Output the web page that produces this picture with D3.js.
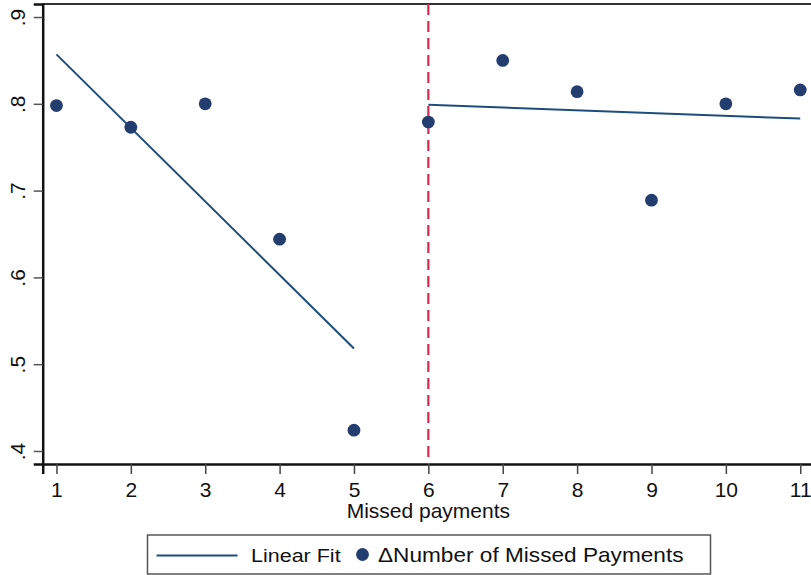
<!DOCTYPE html>
<html>
<head>
<meta charset="utf-8">
<script src="https://cdn.jsdelivr.net/npm/d3@7"></script>
<style>
  html, body { margin: 0; padding: 0; background: #fff; }
  svg { display: block; font-family: Arial, "Liberation Sans", sans-serif; }
</style>
</head>
<body>
<svg id="chart" width="811" height="575"></svg>
<script>
// Missed payments vs. change in the number of missed payments
const missed = [1, 2, 3, 4, 5, 6, 7, 8, 9, 10, 11];
const deltaMissed = [0.798, 0.773, 0.800, 0.644, 0.424, 0.779, 0.850, 0.814, 0.689, 0.800, 0.816];

// Linear fits on each side of the cutoff (endpoints)
const fitLeftX = [1, 5];
const fitLeftY = [0.857, 0.518];
const fitRightX = [6, 11];
const fitRightY = [0.799, 0.783];

const cutoff = 6;
const xTicks = [1, 2, 3, 4, 5, 6, 7, 8, 9, 10, 11];
const yTicks = [0.4, 0.5, 0.6, 0.7, 0.8, 0.9];
const yTickLabels = [".4", ".5", ".6", ".7", ".8", ".9"];

const legendLabels = ["Linear Fit", "\u0394Number of Missed Payments"];

const dotColor = "#233d6e";
const lineColor = "#1d4d7c";
const cutColor = "#d7284f";
const fontStack = "Arial, 'Liberation Sans', sans-serif";

const svg = d3.select("#chart");
const plot = { left: 42.7, right: 814, top: 4, bottom: 464 };

const x = d3.scaleLinear().domain([0.815, 11.185]).range([plot.left, plot.right]);
const y = d3.scaleLinear().domain([0.385, 0.915]).range([plot.bottom, plot.top]);

// frame
svg.append("line").attr("x1", plot.left).attr("x2", 811).attr("y1", plot.top).attr("y2", plot.top)
  .attr("stroke", "#333").attr("stroke-width", 2);

// x axis
const xAxis = d3.axisBottom(x).tickValues(xTicks).tickFormat(d3.format("d"))
  .tickSizeOuter(0).tickSize(10).tickPadding(8);
const gx = svg.append("g").attr("transform", `translate(0,${plot.bottom})`).call(xAxis);
gx.attr("font-size", 21).attr("font-family", fontStack);
gx.select(".domain").attr("stroke", "#111").attr("stroke-width", 2.5);
gx.selectAll(".tick line").attr("stroke", "#444").attr("stroke-width", 1.5);
gx.selectAll(".tick text").attr("fill", "#111");

// y axis
const yAxis = d3.axisLeft(y).tickValues(yTicks).tickFormat((d, i) => yTickLabels[i])
  .tickSizeOuter(0).tickSize(9);
const gy = svg.append("g").attr("transform", `translate(${plot.left},0)`).call(yAxis);
gy.attr("font-size", 21).attr("font-family", fontStack);
gy.select(".domain").attr("stroke", "#111").attr("stroke-width", 2.5);
gy.selectAll(".tick line").attr("stroke", "#555").attr("stroke-width", 1.5);
gy.selectAll(".tick text")
  .attr("fill", "#111")
  .attr("text-anchor", "middle")
  .attr("x", null)
  .attr("dy", null)
  .attr("transform", "translate(-17.5,0) rotate(-90)");

// axis title
svg.append("text").attr("x", (x(1) + x(11)) / 2).attr("y", 518)
  .attr("text-anchor", "middle").attr("font-size", 21).attr("fill", "#111")
  .text("Missed payments");

// cutoff line
svg.append("line").attr("x1", x(cutoff)).attr("x2", x(cutoff))
  .attr("y1", plot.top).attr("y2", plot.bottom)
  .attr("stroke", cutColor).attr("stroke-width", 2.2).attr("stroke-dasharray", "11,6");

// fit lines
const line = d3.line().x(d => x(d[0])).y(d => y(d[1]));
[[fitLeftX, fitLeftY], [fitRightX, fitRightY]].forEach(([xs, ys]) => {
  svg.append("path").datum(xs.map((v, i) => [v, ys[i]]))
    .attr("d", line).attr("fill", "none").attr("stroke", lineColor).attr("stroke-width", 2);
});

// points
svg.append("g").selectAll("circle").data(missed).join("circle")
  .attr("cx", d => x(d)).attr("cy", (d, i) => y(deltaMissed[i]))
  .attr("r", 6.4).attr("fill", dotColor);

// legend
const lg = svg.append("g");
lg.append("rect").attr("x", 147.5).attr("y", 535).attr("width", 563).attr("height", 39)
  .attr("fill", "#fff").attr("stroke", "#555").attr("stroke-width", 1.5);
lg.append("line").attr("x1", 156.5).attr("x2", 237.5).attr("y1", 555.5).attr("y2", 555.5)
  .attr("stroke", lineColor).attr("stroke-width", 2);
lg.append("text").attr("transform", "translate(251,562) scale(1,0.88)")
  .attr("font-size", 21.5).attr("fill", "#111").text(legendLabels[0]);
lg.append("circle").attr("cx", 362.5).attr("cy", 554.5).attr("r", 6.4).attr("fill", dotColor);
lg.append("text").attr("transform", "translate(378,562) scale(1.02,0.88)")
  .attr("font-size", 22.2).attr("fill", "#111").text(legendLabels[1]);
</script>
</body>
</html>
